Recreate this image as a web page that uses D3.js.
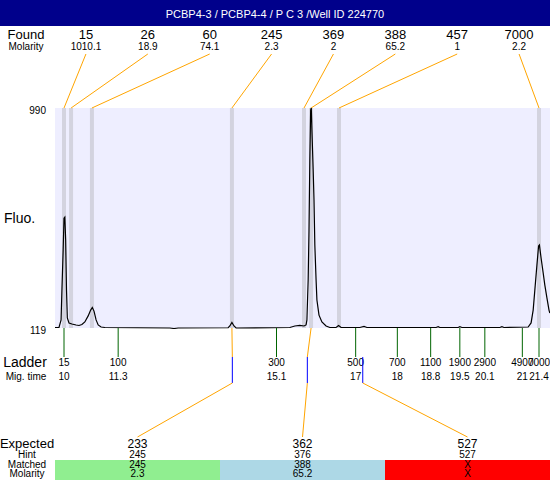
<!DOCTYPE html>
<html>
<head>
<meta charset="utf-8">
<script src="https://cdn.jsdelivr.net/npm/d3@7"></script>
<style>
  body { margin: 0; background: #fff; }
  svg { display: block; font-family: 'Liberation Sans', Arial, sans-serif; }
</style>
</head>
<body>
<svg></svg>
<script>
// electropherogram: fluorescence vs migration time
var width = 550
var height = 480

var title = 'PCBP4-3 / PCBP4-4 / P C 3 /Well ID 224770'

var foundSize = [15, 26, 60, 245, 369, 388, 457, 7000]
var foundMolarity = ['1010.1', '18.9', '74.1', '2.3', '2', '65.2', '1', '2.2']
var foundTime = [10.0, 10.17, 10.67, 14.03, 15.76, 15.93, 16.6, 21.4]

var ladderSize = [15, 100, 300, 500, 700, 1100, 1900, 2900, 4900, 7000]
var ladderTime = [10, 11.3, 15.1, 17, 18, 18.8, 19.5, 20.1, 21, 21.4]

var fluoTicks = [119, 990]

var traceTime = [9.78, 9.88, 9.93, 9.95, 9.98, 10.0, 10.02, 10.04, 10.06, 10.08,
  10.12, 10.19, 10.29, 10.36, 10.43, 10.5, 10.58, 10.64, 10.68, 10.72,
  10.77, 10.82, 10.89, 10.98, 12.54, 12.64, 12.74, 13.94, 13.98, 14.03,
  14.08, 14.13, 15.42, 15.54, 15.66, 15.76, 15.81, 15.83, 15.86, 15.88,
  15.9, 15.92, 15.935, 15.95, 15.98, 16.0, 16.02, 16.05, 16.07, 16.12,
  16.19, 16.29, 16.38, 16.53, 16.59, 16.65, 17.1, 17.2, 17.27, 18.93,
  18.98, 19.02, 19.46, 19.5, 19.55, 20.46, 20.51, 20.56, 21.14, 21.21,
  21.26, 21.3, 21.35, 21.39, 21.41, 21.45, 21.5, 21.54, 21.59, 21.64, 21.66]
var traceFluo = [121, 121, 151, 269, 428, 554, 558, 467, 269, 159,
  139, 135, 131, 129, 133, 143, 167, 190, 200, 186,
  151, 131, 123, 121, 119, 117, 119, 120, 127, 141,
  127, 119, 121, 127, 129, 127, 131, 151, 309, 507,
  784, 982, 990, 903, 745, 626, 448, 309, 230, 170,
  143, 127, 121, 121, 129, 121, 121, 125, 121, 121,
  124, 121, 121, 124, 121, 121, 124, 121, 123, 139,
  190, 269, 368, 444, 448, 396, 337, 289, 238, 190, 178]

var expectedSize = [233, 362, 527]
var expectedTime = [14.04, 15.84, 17.17]
var hintSize = [245, 376, 527]
var matchedSize = ['245', '388', 'X']
var matchedMolarity = ['2.3', '65.2', 'X']
var matchedTime = [14.03, 15.93, null]
var matchColors = ['#90ee90', '#add8e6', '#ff0000']

var plotLeft = 55
var plotTop = 108
var plotBottom = 328

var xScale = d3.scaleLinear()
              .domain([9.784, 21.664])
              .range([plotLeft, width])

var yScale = d3.scaleLinear()
              .domain([119, 990])
              .range([plotBottom, plotTop])

var foundX = d3.scalePoint()
              .domain(d3.range(foundSize.length))
              .range([plotLeft, width])
              .padding(0.5)

var colScale = d3.scaleBand()
              .domain(d3.range(expectedSize.length))
              .range([plotLeft, width])

var svg = d3.select('svg')
            .attr('width', width)
            .attr('height', height)

// header
svg.append('rect')
  .attr('width', width)
  .attr('height', 26)
  .attr('fill', '#00008b')

svg.append('text')
  .attr('x', width / 2)
  .attr('y', 18)
  .attr('fill', '#fff')
  .style('font-size', '11px')
  .style('text-anchor', 'middle')
  .text(title)

// found row
svg.append('text')
  .attr('x', 26).attr('y', 39)
  .style('font-size', '13px')
  .style('text-anchor', 'middle')
  .text('Found')

svg.append('text')
  .attr('x', 26).attr('y', 50)
  .style('font-size', '10px')
  .style('text-anchor', 'middle')
  .text('Molarity')

svg.selectAll('.found-size')
    .data(foundSize)
    .enter()
    .append('text')
     .attr('x', (d, i) => foundX(i))
     .attr('y', 39)
     .style('font-size', '13px')
     .style('text-anchor', 'middle')
     .text(d => d)

svg.selectAll('.found-mol')
    .data(foundMolarity)
    .enter()
    .append('text')
     .attr('x', (d, i) => foundX(i))
     .attr('y', 50)
     .style('font-size', '10px')
     .style('text-anchor', 'middle')
     .text(d => d)

// plot area
svg.append('rect')
  .attr('x', plotLeft)
  .attr('y', plotTop)
  .attr('width', width - plotLeft)
  .attr('height', plotBottom - plotTop)
  .attr('fill', '#eeeeff')

svg.selectAll('.band')
    .data(foundTime)
    .enter()
    .append('rect')
     .attr('x', d => xScale(d) - 2)
     .attr('y', plotTop)
     .attr('width', 4)
     .attr('height', plotBottom - plotTop)
     .attr('fill', '#d3d3df')

svg.selectAll('.found-link')
    .data(foundTime)
    .enter()
    .append('line')
     .attr('x1', (d, i) => foundX(i))
     .attr('y1', 54)
     .attr('x2', d => xScale(d))
     .attr('y2', plotTop)
     .attr('stroke', 'orange')

svg.append('clipPath')
    .attr('id', 'clip')
  .append('rect')
    .attr('x', plotLeft)
    .attr('y', plotTop - 1)
    .attr('width', width - plotLeft)
    .attr('height', plotBottom - plotTop + 2)

var line = d3.line()
              .x(d => xScale(d[0]))
              .y(d => yScale(d[1]))

svg.append('path')
  .datum(d3.zip(traceTime, traceFluo))
  .attr('clip-path', 'url(#clip)')
  .attr('d', line)
  .attr('fill', 'none')
  .attr('stroke', '#000')
  .attr('stroke-width', 1.2)

svg.append('g')
    .attr('transform', 'translate(' + (plotLeft - 6) + ', 2)')
    .call(d3.axisLeft(yScale).tickValues(fluoTicks).tickSize(0))
    .call(g => g.select('.domain').remove())
  .selectAll('text')
    .attr('fill', '#000')
    .style('font-size', '10px')
    .style('font-family', "'Liberation Sans', Arial, sans-serif")

svg.append('text')
  .attr('x', 4).attr('y', 223)
  .style('font-size', '14px')
  .text('Fluo.')

// ladder
svg.selectAll('.ladder-tick')
    .data(ladderTime)
    .enter()
    .append('line')
     .attr('x1', d => xScale(d))
     .attr('x2', d => xScale(d))
     .attr('y1', plotBottom)
     .attr('y2', 357)
     .attr('stroke', '#006400')

svg.selectAll('.ladder-size')
    .data(ladderSize)
    .enter()
    .append('text')
     .attr('x', (d, i) => xScale(ladderTime[i]))
     .attr('y', 366)
     .style('font-size', '10px')
     .style('text-anchor', 'middle')
     .text(d => d)

svg.selectAll('.ladder-time')
    .data(ladderTime)
    .enter()
    .append('text')
     .attr('x', d => xScale(d))
     .attr('y', 380)
     .style('font-size', '10px')
     .style('text-anchor', 'middle')
     .text(d => d)

svg.append('text')
  .attr('x', 25).attr('y', 367)
  .style('font-size', '14px')
  .style('text-anchor', 'middle')
  .text('Ladder')

svg.append('text')
  .attr('x', 26).attr('y', 380)
  .style('font-size', '10px')
  .style('text-anchor', 'middle')
  .text('Mig. time')

// expected vs matched
svg.selectAll('.match-link')
    .data(matchedTime)
    .enter()
    .filter(d => d !== null)
    .append('line')
     .attr('x1', d => xScale(d))
     .attr('y1', plotBottom)
     .attr('x2', (d, i) => xScale(expectedTime[i]))
     .attr('y2', 357)
     .attr('stroke', 'orange')

svg.selectAll('.expected-mark')
    .data(expectedTime)
    .enter()
    .append('line')
     .attr('x1', d => xScale(d))
     .attr('x2', d => xScale(d))
     .attr('y1', 357)
     .attr('y2', 383)
     .attr('stroke', 'blue')

svg.selectAll('.expected-link')
    .data(expectedTime)
    .enter()
    .append('line')
     .attr('x1', d => xScale(d))
     .attr('y1', 383)
     .attr('x2', (d, i) => colScale(i) + colScale.bandwidth() / 2)
     .attr('y2', 437)
     .attr('stroke', 'orange')

svg.selectAll('.match-cell')
    .data(matchColors)
    .enter()
    .append('rect')
     .attr('x', (d, i) => colScale(i))
     .attr('y', 460)
     .attr('width', colScale.bandwidth())
     .attr('height', 20)
     .attr('fill', d => d)

var rows = [
  {values: expectedSize, y: 447.5, size: 12},
  {values: hintSize, y: 458, size: 10},
  {values: matchedSize, y: 468, size: 10},
  {values: matchedMolarity, y: 477, size: 10}
]

rows.forEach(function(row) {
  svg.selectAll(null)
      .data(row.values)
      .enter()
      .append('text')
       .attr('x', (d, i) => colScale(i) + colScale.bandwidth() / 2)
       .attr('y', row.y)
       .style('font-size', row.size + 'px')
       .style('text-anchor', 'middle')
       .text(d => d)
})

svg.append('text')
  .attr('x', 27).attr('y', 447.5)
  .style('font-size', '13px')
  .style('text-anchor', 'middle')
  .text('Expected')

svg.append('text')
  .attr('x', 27).attr('y', 458)
  .style('font-size', '10px')
  .style('text-anchor', 'middle')
  .text('Hint')

svg.append('text')
  .attr('x', 27).attr('y', 468)
  .style('font-size', '10px')
  .style('text-anchor', 'middle')
  .text('Matched')

svg.append('text')
  .attr('x', 27).attr('y', 477)
  .style('font-size', '10px')
  .style('text-anchor', 'middle')
  .text('Molarity')
</script>
</body>
</html>
